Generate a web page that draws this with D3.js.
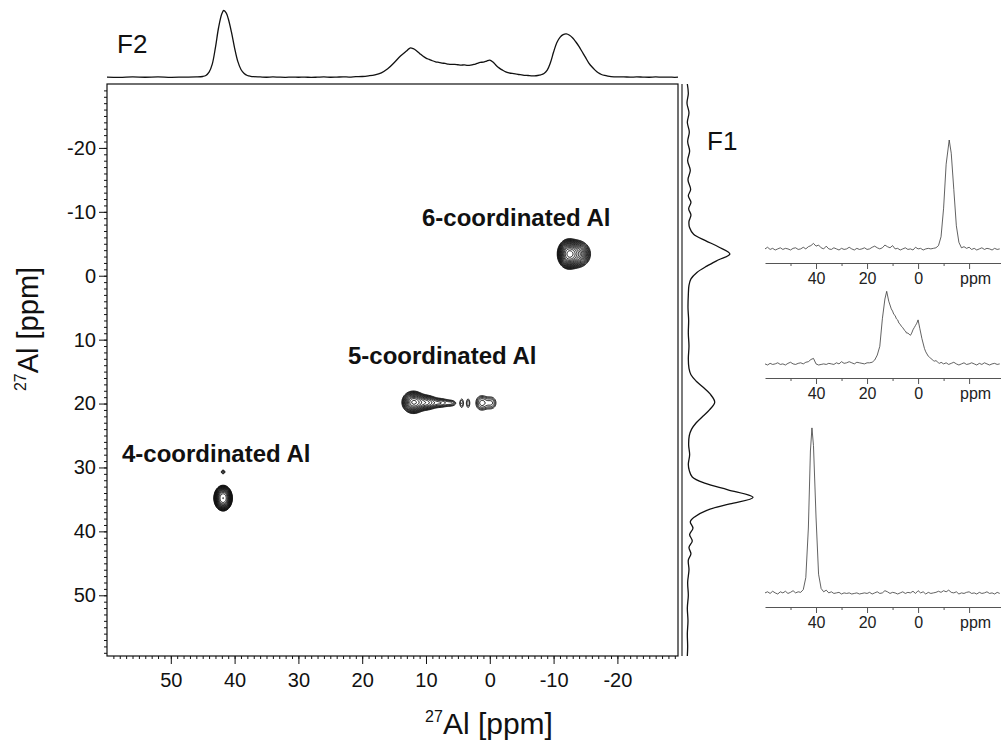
<!DOCTYPE html>
<html>
<head>
<meta charset="utf-8">
<script src="https://cdn.jsdelivr.net/npm/d3@7"></script>
<style>
  html, body { margin: 0; padding: 0; background: #fff; }
  svg { display: block; font-family: "Liberation Sans", Arial, sans-serif; }
</style>
</head>
<body>
<svg id="chart" width="1001" height="751"></svg>
<script>
// ---------- data ----------
// Axis ticks (ppm)
const xTicks = [50, 40, 30, 20, 10, 0, -10, -20];
const yTicks = [-20, -10, 0, 10, 20, 30, 40, 50];
const sliceTicks = [40, 20, 0, -20];
const sliceTickLabels = ["40", "20", "0", "ppm"];
const sliceMinorTicks = [50, 30, 10, -10];

// F2 (horizontal) projection: [ppm, intensity]
const f2Projection = [
  [60,0.5],[58,0.2],[56,0.8],[54,0.4],[52,0.9],[50,0.3],[48,0.6],[46,0.8],[45,1.5],[44.5,3],
  [44,8],[43.5,20],[43,45],[42.5,75],[42,95],[41.7,100],[41.3,96],[41,88],[40.5,68],[40,44],
  [39.5,24],[39,12],[38.5,6],[38,3],[37.5,1.8],[37,1.2],[36,0.8],[35,0.4],[34,0.9],[33,0.5],
  [32,0.3],[31,0.7],[30,0.4],[29,0.6],[28,0.2],[27,0.5],[26,0.8],[25,0.4],[24,0.6],[23,0.9],
  [22,0.7],[21,1.2],[20,1.5],[19,2.5],[18,4],[17,7],[16,13],[15,22],[14,32],[13,40],
  [12.5,44],[12,43],[11.5,40],[11,36],[10.5,32],[10,29],[9.5,27],[9,25],[8.5,23.5],[8,22.5],
  [7.5,21.5],[7,21],[6.5,20],[6,19.5],[5.5,19.5],[5,19],[4.5,18.5],[4,18.8],[3.5,18.2],[3,18.5],
  [2.5,19.5],[2,21],[1.5,22.5],[1,23],[0.5,24.5],[0,26],[-0.5,23],[-1,18],[-1.5,14],[-2,11],
  [-2.5,8.5],[-3,7],[-3.5,6],[-4,5.5],[-4.5,4.5],[-5,4],[-5.5,3.2],[-6,3],[-6.5,2.5],[-7,2.5],
  [-7.5,3],[-8,4],[-8.5,6],[-9,11],[-9.5,22],[-10,38],[-10.5,52],[-11,60],[-11.5,64],[-12,65],
  [-12.5,63],[-13,59],[-13.5,53],[-14,46],[-14.5,38],[-15,30],[-15.5,22],[-16,16],[-16.5,11],[-17,7],
  [-17.5,4.5],[-18,3],[-18.5,2],[-19,1.3],[-20,0.8],[-21,1],[-22,0.5],[-23,0.9],[-24,0.6],[-25,0.4],
  [-26,0.8],[-27,0.5],[-28,0.7],[-29,0.3],[-29.5,0.5]
];

// F1 (vertical) projection: [ppm, intensity]
const f1Projection = [
  [-30,0.5],[-28.5,2],[-27,0],[-25.5,3],[-24,0.5],[-22.5,3.5],[-21,1],[-19.5,4],[-18,1],[-16.5,5],
  [-15,1.5],[-13.5,5.5],[-12.5,2],[-11.5,6],[-10.5,2.5],[-9.5,6],[-8.5,3],[-7.5,4],[-6.5,10],[-5.5,28],
  [-4.5,48],[-3.4,65],[-2.5,48],[-1.5,30],[-0.5,15],[0.5,6],[1.5,3],[3,2],[5,1.5],[7,2.5],
  [9,2],[11,3],[13,2],[14.5,3],[15.5,6],[16.5,14],[17.5,25],[18.5,35],[19.8,42],[21,34],
  [22,24],[23,14],[24,7],[25,3.5],[26.5,2.5],[28,4],[29.5,2],[30.5,3.5],[31.5,8],[32.5,28],
  [33.5,62],[34.7,100],[35.7,65],[36.7,30],[37.7,12],[38.5,5],[39.5,9],[40.5,4],[41.5,8],[42.5,3],
  [43.5,6],[44.5,2],[46,3],[48,1],[50,2],[52,0.5],[54,1.5],[56,0.5],[58,1],[59.5,0.5]
];

// F2 slices through each site: [ppm, intensity]
const sliceSix = [
  [60,1],[59,2.5],[58,0.5],[57,1.5],[56,0],[55,1],[54,2],[53,0.5],[52,1.5],[51,1],
  [50,0],[49,1.5],[48,2],[47,0.5],[46,1],[45,2.5],[44,1],[43,3],[42,4],[41,6],
  [40,3.5],[39,4.5],[38,2],[37,1],[36,3.5],[35,1],[34,0.5],[33,2],[32,1],[31,0],
  [30,1.5],[29,0.5],[28,1],[27,2.5],[26,1],[25,0],[24,1.5],[23,0.5],[22,1],[21,2],
  [20,0.5],[19,1],[18,2.5],[17,3.5],[16,2],[15,1],[14,2],[13,4.5],[12,3],[11,2],
  [10,4],[9,1],[8,1.5],[7,0],[6,1],[5,2],[4,0.5],[3,1],[2,0],[1,2.5],
  [0,1],[-1,1.5],[-2,0],[-3,1],[-4,1.5],[-5,1],[-6,1.5],[-7,2],[-8,4],[-9,12],
  [-10,38],[-11,78],[-12.2,100],[-13,88],[-14,55],[-15,22],[-16,7],[-17,2],[-18,3],[-19,1.5],
  [-20,2.5],[-21,0.5],[-22,1.5],[-23,0],[-24,1],[-25,2],[-26,0.5],[-27,1.5],[-28,1],[-29,0],
  [-30,1.5],[-31,0.5],[-32,1]
];
const sliceFive = [
  [60,1],[59,0],[58,1.5],[57,0.5],[56,1],[55,2],[54,0.5],[53,1],[52,0],[51,1.5],
  [50,2.5],[49,1],[48,0.5],[47,1.5],[46,2],[45,1],[44,2.5],[43,3],[42,5],[41,6],
  [40,1],[39,0],[38,0.5],[37,1],[36,0.5],[35,1.5],[34,1],[33,0.5],[32,2],[31,1],
  [30,3],[29,1.5],[28,2],[27,3],[26,2],[25,1],[24,2.5],[23,2],[22,1.5],[21,1],
  [20,2],[19,2],[18,2.5],[17,4.5],[16,9],[15,17],[14,42],[13,60],[12.3,67],[11.5,58],
  [10.5,51],[10,49],[9.5,46],[9,45],[8.5,42],[8,41],[7.5,38],[7,37],[6.5,35],[6,34],
  [5.5,32],[5,31],[4.5,29],[4,29],[3.5,28],[3,27],[2.5,29],[2,32],[1.5,34],[1,36],
  [0.5,38],[0,41],[-0.7,33],[-1.5,24],[-2.5,15],[-3,12],[-3.5,10],[-4,8],[-4.5,7],[-5,6],
  [-5.5,5],[-6,4],[-6.5,3.5],[-7,4],[-7.5,3],[-8,2],[-8.5,1.5],[-9,2.5],[-10,1],[-11,2],
  [-12,0.5],[-13,1.5],[-14,2.5],[-15,1],[-16,0],[-17,1],[-18,2],[-19,0.5],[-20,1],[-21,2],
  [-22,1],[-23,0],[-24,1.5],[-25,0.5],[-26,2],[-27,1],[-28,0],[-29,1],[-30,1.5],[-31,0.5],[-32,1]
];
const sliceFour = [
  [60,1],[59,2],[58,0.5],[57,2.5],[56,1],[55,0],[54,2],[53,1],[52,2.5],[51,0.5],
  [50,1.5],[49,3],[48,1],[47,2],[46,1.5],[45,4],[44,15],[43,60],[42.2,130],[41.6,151],
  [41,135],[40,70],[39,18],[38,5],[37,2],[36,3.5],[35,1],[34,2],[33,0.5],[32,1],
  [31,1.5],[30,0],[29,1],[28,0.5],[27,1],[26,0],[25,0.5],[24,1],[23,0],[22,0.5],
  [21,1],[20,0.5],[19,1.5],[18,0],[17,1],[16,2],[15,0.5],[14,1],[13,3],[12,2],
  [11,0.5],[10,1.5],[9,1],[8,0],[7,1],[6,2],[5,0.5],[4,1.5],[3,1],[2,2.5],
  [1,0.5],[0,3],[-1,1],[-2,2],[-3,0],[-4,1.5],[-5,0.5],[-6,1],[-7,1.5],[-8,2.5],
  [-9,1.5],[-10,3],[-11,2],[-12,3.5],[-13,1.5],[-14,1],[-15,2],[-16,0],[-17,1],[-18,0.5],
  [-19,1.5],[-20,2],[-21,0.5],[-22,1],[-23,0],[-24,1.5],[-25,0.5],[-26,1],[-27,2],[-28,0.5],
  [-29,1],[-30,0],[-31,1.5],[-32,0.5]
];

// 2D correlation peak components: position (F2, F1 ppm), widths (ppm), height, profile exponent
const compF2      = [41.8, 41.8, -12.3, -13.6, 12.0, 10.0, 7.6, 5.9, 4.4, 3.4, 1.3, -0.3];
const compF1      = [34.8, 30.7,  -3.4,  -3.4, 19.8, 19.85, 19.9, 19.95, 19.95, 19.95, 19.9, 19.9];
const compWidthF2 = [0.72, 0.30,  0.78,  1.02, 0.85, 1.0, 0.95, 0.6, 0.3, 0.3, 0.7, 0.65];
const compWidthF1 = [1.00, 0.30,  1.05,  1.00, 0.84, 0.66, 0.5, 0.38, 0.8, 0.8, 0.88, 0.82];
const compHeight  = [1.00, 0.07,  0.70,  0.45, 0.40, 0.20, 0.10, 0.06, 0.062, 0.062, 0.10, 0.075];
const compShape   = [2.6, 2, 2.2, 2, 2, 2, 2, 2, 2, 2, 2, 2];

// Site annotations
const siteLabels = ["6-coordinated Al", "5-coordinated Al", "4-coordinated Al"];

// ---------- layout ----------
const svg = d3.select("#chart");
const frame = { left: 107, right: 678, top: 84, bottom: 656 };
const FONT = "Liberation Sans, Arial, sans-serif";

const x = d3.scaleLinear().domain([60, -29.5]).range([frame.left, frame.right]);
const y = d3.scaleLinear().domain([-30, 59.5]).range([frame.top, frame.bottom]);

// ---------- contour map ----------
const step = 0.12;
const nx = Math.round((60 + 29.5) / step) + 1;
const ny = Math.round((59.5 + 30) / step) + 1;
const field = new Float64Array(nx * ny);
for (let c = 0; c < compHeight.length; c++) {
  const cx = compF2[c], cy = compF1[c], sx = compWidthF2[c], sy = compWidthF1[c];
  const a = compHeight[c], p = compShape[c] / 2;
  const i0 = Math.max(0, Math.floor((60 - (cx + 6 * sx)) / step));
  const i1 = Math.min(nx - 1, Math.ceil((60 - (cx - 6 * sx)) / step));
  const j0 = Math.max(0, Math.floor((cy - 6 * sy + 30) / step));
  const j1 = Math.min(ny - 1, Math.ceil((cy + 6 * sy + 30) / step));
  for (let j = j0; j <= j1; j++) {
    const dy = (-30 + j * step - cy) / sy;
    for (let i = i0; i <= i1; i++) {
      const dx = (60 - i * step - cx) / sx;
      field[j * nx + i] += a * Math.exp(-0.5 * Math.pow(dx * dx + dy * dy, p));
    }
  }
}
const contourLevels = d3.range(20).map(k => 0.045 * Math.pow(1.2, k));
const contours = d3.contours().size([nx, ny]).thresholds(contourLevels)(field);
const gridProjection = d3.geoTransform({
  point(gx, gy) { this.stream.point(x(60 - (gx - 0.5) * step), y(-30 + (gy - 0.5) * step)); }
});
svg.append("g")
  .selectAll("path")
  .data(contours)
  .join("path")
  .attr("d", d3.geoPath(gridProjection))
  .attr("fill", "none")
  .attr("stroke", "#111")
  .attr("stroke-width", 1.0);

// ---------- frame ----------
svg.append("rect")
  .attr("x", frame.left).attr("y", frame.top)
  .attr("width", frame.right - frame.left).attr("height", frame.bottom - frame.top)
  .attr("fill", "none").attr("stroke", "#111").attr("stroke-width", 1.2);
svg.append("line")
  .attr("x1", frame.right + 4).attr("x2", frame.right + 4)
  .attr("y1", frame.top).attr("y2", frame.bottom)
  .attr("stroke", "#111").attr("stroke-width", 1.1);

// ---------- axes ----------
const minorX = d3.range(59, -30, -1);
const minorY = d3.range(-29, 60, 1);

function styleAxis(g) {
  g.select(".domain").remove();
  g.selectAll("line").attr("stroke", "#111");
  g.selectAll("text").attr("fill", "#111").attr("font-size", 20).attr("font-family", FONT);
}

svg.append("g")
  .attr("transform", `translate(0,${frame.bottom})`)
  .call(d3.axisBottom(x).tickValues(minorX).tickSize(3).tickFormat(""))
  .call(styleAxis);
svg.append("g")
  .attr("transform", `translate(0,${frame.bottom})`)
  .call(d3.axisBottom(x).tickValues(xTicks).tickSize(8).tickPadding(9).tickFormat(d => String(d)))
  .call(styleAxis);

svg.append("g")
  .attr("transform", `translate(${frame.left},0)`)
  .call(d3.axisLeft(y).tickValues(minorY).tickSize(3).tickFormat(""))
  .call(styleAxis);
svg.append("g")
  .attr("transform", `translate(${frame.left},0)`)
  .call(d3.axisLeft(y).tickValues(yTicks).tickSize(8).tickPadding(3).tickFormat(d => String(d)))
  .call(styleAxis);

// Axis titles
const xTitle = svg.append("text")
  .attr("x", 489).attr("y", 734)
  .attr("text-anchor", "middle")
  .attr("font-size", 30).attr("fill", "#111");
xTitle.append("tspan").attr("font-size", 16).attr("dy", -12).text("27");
xTitle.append("tspan").attr("dy", 12).text("Al [ppm]");

const yTitle = svg.append("text")
  .attr("transform", "translate(38,329) rotate(-90)")
  .attr("text-anchor", "middle")
  .attr("font-size", 29).attr("fill", "#111");
yTitle.append("tspan").attr("font-size", 16).attr("dy", -12).text("27");
yTitle.append("tspan").attr("dy", 12).text("Al [ppm]");

// ---------- projections ----------
const f2Height = d3.scaleLinear().domain([0, 100]).range([77.5, 10.5]);
svg.append("path")
  .datum(f2Projection)
  .attr("d", d3.line().x(d => x(d[0])).y(d => f2Height(d[1])).curve(d3.curveCatmullRom))
  .attr("fill", "none").attr("stroke", "#111").attr("stroke-width", 1.3);

const f1Width = d3.scaleLinear().domain([0, 100]).range([687, 753]);
svg.append("path")
  .datum(f1Projection)
  .attr("d", d3.line().x(d => f1Width(d[1])).y(d => y(d[0])).curve(d3.curveCatmullRom))
  .attr("fill", "none").attr("stroke", "#111").attr("stroke-width", 1.3);

svg.append("text").attr("x", 117).attr("y", 53).attr("font-size", 26).attr("fill", "#111").text("F2");
svg.append("text").attr("x", 707).attr("y", 150).attr("font-size", 26).attr("fill", "#111").text("F1");

// ---------- site annotations ----------
const labelPos = [[422, 226], [348, 364], [122, 462]];
svg.append("g")
  .selectAll("text")
  .data(siteLabels)
  .join("text")
  .attr("x", (d, i) => labelPos[i][0])
  .attr("y", (d, i) => labelPos[i][1])
  .attr("font-size", 24).attr("font-weight", "bold").attr("fill", "#111")
  .text(d => d);

// ---------- slice insets ----------
const sx = d3.scaleLinear().domain([60, -32.5]).range([765, 1001]);
const insets = [
  { data: sliceSix, axisY: 263 },
  { data: sliceFive, axisY: 378 },
  { data: sliceFour, axisY: 607 }
];
insets.forEach(inset => {
  const g = svg.append("g");
  const sy = d3.scaleLinear().domain([0, 100]).range([inset.axisY - 13, inset.axisY - 13 - 110]);
  g.append("path")
    .datum(inset.data)
    .attr("d", d3.line().x(d => sx(d[0])).y(d => sy(d[1])))
    .attr("fill", "none").attr("stroke", "#3a3a3a").attr("stroke-width", 0.8);

  const axisG = g.append("g").attr("transform", `translate(0,${inset.axisY})`);
  axisG.call(d3.axisBottom(sx).tickValues(sliceMinorTicks).tickSize(3).tickSizeOuter(0).tickFormat(""));
  axisG.select(".domain").attr("stroke", "#555");
  axisG.selectAll("line").attr("stroke", "#555");
  const major = g.append("g").attr("transform", `translate(0,${inset.axisY})`)
    .call(d3.axisBottom(sx).tickValues(sliceTicks).tickSize(6).tickPadding(4)
      .tickFormat((d, i) => sliceTickLabels[i]));
  major.select(".domain").remove();
  major.selectAll("line").attr("stroke", "#555");
  major.selectAll("text")
    .attr("font-size", 16).attr("fill", "#222")
    .attr("font-family", FONT)
    .attr("dx", (d, i) => i === sliceTicks.length - 1 ? 6 : 0);
});
</script>
</body>
</html>
